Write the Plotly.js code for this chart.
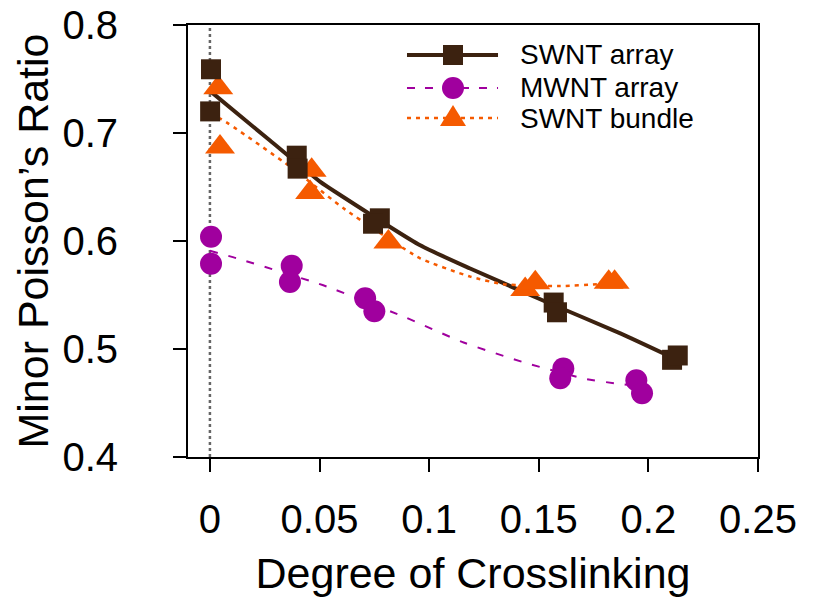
<!DOCTYPE html>
<html>
<head>
<meta charset="utf-8">
<script src="https://cdn.plot.ly/plotly-3.0.1.min.js"></script>
<style>html,body{margin:0;padding:0;background:#fff;}#chart{width:815px;height:600px;}</style>
</head>
<body>
<div id="chart"></div>
<script>
// Measured points
const swntArrayX = [0.0005, 0.0001, 0.0396, 0.0400, 0.0775, 0.0744, 0.1568, 0.1583, 0.2108, 0.2134];
const swntArrayY = [0.759, 0.720, 0.679, 0.667, 0.621, 0.616, 0.543, 0.534, 0.490, 0.494];
const mwntArrayX = [0.0005, 0.0005, 0.0373, 0.0365, 0.0708, 0.0750, 0.1612, 0.1598, 0.1945, 0.1971];
const mwntArrayY = [0.604, 0.579, 0.577, 0.562, 0.547, 0.535, 0.482, 0.473, 0.471, 0.459];
const swntBundleX = [0.0038, 0.0046, 0.0464, 0.0457, 0.0814, 0.1438, 0.1484, 0.1819, 0.1846];
const swntBundleY = [0.742, 0.687, 0.6655, 0.645, 0.599, 0.555, 0.5614, 0.5617, 0.5617];

// Fit curves
const swntArrayFitX = [0, 0.0274, 0.0502, 0.0594, 0.0959, 0.1187, 0.153, 0.1872, 0.21];
const swntArrayFitY = [0.739, 0.693, 0.655, 0.6426, 0.596, 0.5745, 0.544, 0.5145, 0.493];
const mwntArrayFitX = [0, 0.0122, 0.0517, 0.0883, 0.1157, 0.1446, 0.172, 0.1857, 0.195];
const mwntArrayFitY = [0.591, 0.584, 0.559, 0.530, 0.506, 0.4868, 0.472, 0.468, 0.466];
const swntBundleFitX = [0, 0.0053, 0.0365, 0.0616, 0.0959, 0.1187, 0.1338, 0.1598, 0.1766, 0.183];
const swntBundleFitY = [0.717, 0.7127, 0.669, 0.6293, 0.584, 0.567, 0.560, 0.5583, 0.560, 0.5615];

const seriesNames = ['SWNT array', 'MWNT array', 'SWNT bundle'];
const xTickVals = [0, 0.05, 0.1, 0.15, 0.2, 0.25];
const xTickText = ['0', '0.05', '0.1', '0.15', '0.2', '0.25'];
const yTickVals = [0.4, 0.5, 0.6, 0.7, 0.8];
const yTickText = ['0.4', '0.5', '0.6', '0.7', '0.8'];

const cBrown = '#3c2210';
const cPurple = '#a0009e';
const cOrange = '#f55a00';
const FONT = '"Liberation Sans", Arial, Helvetica, sans-serif';

const styles = [
  {color: cBrown, width: 4, dash: 'solid', symbol: 'square'},
  {color: cPurple, width: 2, dash: '8px,10px', symbol: 'circle'},
  {color: cOrange, width: 2.5, dash: '4px,5px', symbol: 'triangle-up'}
];

const traces = [
  {x: swntArrayFitX, y: swntArrayFitY, mode: 'lines', line: {color: cBrown, width: 4, shape: 'spline', smoothing: 0.5}, showlegend: false, hoverinfo: 'skip'},
  {x: swntBundleFitX, y: swntBundleFitY, mode: 'lines', line: {color: cOrange, width: 2.5, dash: '4px,5px', shape: 'spline', smoothing: 0.5}, showlegend: false, hoverinfo: 'skip'},
  {x: mwntArrayFitX, y: mwntArrayFitY, mode: 'lines', line: {color: cPurple, width: 2, dash: '8px,11px', shape: 'spline', smoothing: 0.5}, showlegend: false, hoverinfo: 'skip'},
  {x: swntBundleX, y: swntBundleY, name: seriesNames[2], mode: 'markers', marker: {symbol: 'triangle-up', size: 26, color: cOrange}, showlegend: false},
  {x: mwntArrayX, y: mwntArrayY, name: seriesNames[1], mode: 'markers', marker: {symbol: 'circle', size: 22, color: cPurple}, showlegend: false},
  {x: swntArrayX, y: swntArrayY, name: seriesNames[0], mode: 'markers', marker: {symbol: 'square', size: 20, color: cBrown}, showlegend: false}
];

// Legend drawn as shapes + annotations (longer sample lines, tighter rows like the original)
const legRowY = [0.9306, 0.8542, 0.7847];
const legLineX0 = 0.3842, legLineX1 = 0.5439, legMarkX = 0.4649, legTextX = 0.5789;
const shapes = [
  {type: 'line', xref: 'x', yref: 'paper', x0: 0, x1: 0, y0: 0, y1: 1, line: {color: '#666', width: 2.5, dash: '3px,3px'}, layer: 'below'}
];
const annotations = [];
seriesNames.forEach((nm, i) => {
  const s = styles[i];
  const yy = legRowY[i];
  shapes.push({type: 'line', xref: 'paper', yref: 'paper', x0: legLineX0, x1: legLineX1, y0: yy, y1: yy,
    line: {color: s.color, width: s.width, dash: s.dash}, layer: 'above'});
  const common = {xref: 'paper', yref: 'paper', xsizemode: 'pixel', ysizemode: 'pixel', xanchor: legMarkX, yanchor: yy,
    fillcolor: s.color, line: {width: 0}, layer: 'above'};
  if (s.symbol === 'square') {
    shapes.push(Object.assign({type: 'rect', x0: -10, x1: 10, y0: -10, y1: 10}, common));
  } else if (s.symbol === 'circle') {
    shapes.push(Object.assign({type: 'circle', x0: -11, x1: 11, y0: -11, y1: 11}, common));
  } else {
    shapes.push(Object.assign({type: 'path', path: 'M-13,-8 L13,-8 L0,13 Z'}, common));
  }
  annotations.push({xref: 'paper', yref: 'paper', x: legTextX, y: yy, xanchor: 'left', yanchor: 'middle',
    text: nm, showarrow: false, font: {size: 28, family: FONT, color: '#000'}});
});

const layout = {
  width: 815, height: 600,
  margin: {l: 188, r: 57, t: 25, b: 143},
  paper_bgcolor: '#fff', plot_bgcolor: '#fff',
  font: {family: FONT, color: '#000'},
  showlegend: false,
  xaxis: {
    range: [-0.01, 0.25], tickvals: xTickVals, ticktext: xTickText,
    ticks: 'outside', ticklen: 13, tickwidth: 2, tickcolor: '#000',
    showline: true, linecolor: '#000', linewidth: 2, mirror: true,
    showgrid: false, zeroline: false,
    tickfont: {size: 40, family: FONT}, ticklabelstandoff: 13,
    title: {text: 'Degree of Crosslinking', font: {size: 43, family: FONT}, standoff: 18}
  },
  yaxis: {
    range: [0.4, 0.8], tickvals: yTickVals, ticktext: yTickText,
    ticks: 'outside', ticklen: 13, tickwidth: 2, tickcolor: '#000',
    showline: true, linecolor: '#000', linewidth: 2, mirror: true,
    showgrid: false, zeroline: false,
    tickfont: {size: 40, family: FONT}, ticklabelstandoff: 47,
    title: {text: 'Minor Poisson’s Ratio', font: {size: 43, family: FONT}, standoff: 0}
  },
  shapes: shapes,
  annotations: annotations
};

Plotly.newPlot('chart', traces, layout, {displayModeBar: false, staticPlot: true});
</script>
</body>
</html>
